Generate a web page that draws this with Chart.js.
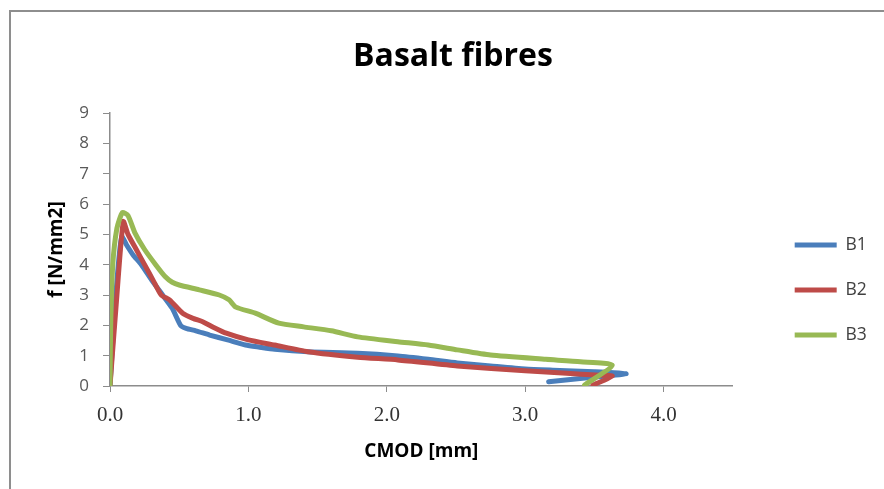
<!DOCTYPE html>
<html>
<head>
<meta charset="utf-8">
<script src="https://cdn.jsdelivr.net/npm/chart.js@4/dist/chart.umd.min.js"></script>
<style>
  html, body { margin: 0; padding: 0; overflow: hidden; background: #fff; width: 884px; height: 489px; }
  #frame { position: absolute; left: 9px; top: 10px; width: 900px; height: 700px; border: 2px solid #8e8e8e; box-sizing: border-box; }
  #c { position: absolute; left: 0; top: 0; }
</style>
</head>
<body>
<div id="frame"></div>
<canvas id="c" width="884" height="580"></canvas>
<script>
// Flexural tests on basalt-fibre specimens: stress f [N/mm2] against CMOD [mm]
const chartTitle = 'Basalt fibres';
const seriesNames = ['B1', 'B2', 'B3'];
const seriesColors = ['#4A7EBB', '#BE4B48', '#98B954'];

const cmodB1 = [0, 0.03, 0.06, 0.085, 0.12, 0.167, 0.227, 0.3, 0.38, 0.45, 0.51, 0.55, 0.62, 0.72, 0.85, 0.98, 1.08, 1.19, 1.43, 1.79, 2.08, 2.3, 2.51, 2.75, 3.0, 3.2, 3.5, 3.73, 3.45, 3.17];
const fB1    = [0, 2.2, 4.0, 4.92, 4.65, 4.32, 4.0, 3.5, 3.0, 2.56, 2.0, 1.9, 1.82, 1.68, 1.52, 1.35, 1.28, 1.21, 1.13, 1.08, 0.99, 0.88, 0.76, 0.66, 0.56, 0.52, 0.47, 0.40, 0.27, 0.14];

const cmodB2 = [0, 0.05, 0.096, 0.13, 0.19, 0.25, 0.31, 0.37, 0.43, 0.525, 0.6, 0.67, 0.75, 0.84, 1.0, 1.19, 1.43, 1.79, 2.08, 2.51, 3.0, 3.3, 3.51, 3.63, 3.49];
const fB2    = [0, 3.0, 5.42, 5.0, 4.5, 4.0, 3.5, 3.0, 2.84, 2.4, 2.23, 2.12, 1.93, 1.74, 1.52, 1.35, 1.13, 0.95, 0.86, 0.66, 0.5, 0.42, 0.36, 0.33, 0.03];

const cmodB3 = [0, 0.005, 0.02, 0.05, 0.09, 0.13, 0.18, 0.25, 0.33, 0.4, 0.45, 0.5, 0.645, 0.79, 0.86, 0.91, 1.05, 1.22, 1.4, 1.6, 1.79, 2.08, 2.3, 2.51, 2.75, 3.15, 3.4, 3.63, 3.43];
const fB3    = [0, 2.0, 4.0, 5.2, 5.72, 5.62, 5.05, 4.5, 4.0, 3.6, 3.42, 3.33, 3.17, 3.0, 2.84, 2.6, 2.4, 2.07, 1.95, 1.82, 1.62, 1.46, 1.35, 1.19, 1.02, 0.88, 0.8, 0.69, 0.03];

const xTickValues = [0, 1, 2, 3, 4];
const xRange = [0, 4.5];
const yRange = [0, 9];

const xs = [cmodB1, cmodB2, cmodB3];
const ys = [fB1, fB2, fB3];

const datasets = seriesNames.map((name, i) => ({
  label: name,
  data: xs[i].map((x, k) => ({ x, y: ys[i][k] })),
  borderColor: seriesColors[i],
  backgroundColor: seriesColors[i],
  borderWidth: 5,
  borderCapStyle: 'round',
  borderJoinStyle: 'round',
  pointRadius: 0,
  pointHoverRadius: 0,
  pointStyle: 'line',
  showLine: true,
  tension: 0.2,
  order: seriesNames.length - 1 - i
}));

const axisGrey = '#8c8c8c';

new Chart(document.getElementById('c'), {
  type: 'scatter',
  data: { datasets },
  options: {
    responsive: false,
    animation: false,
    devicePixelRatio: 1,
    layout: { padding: { left: 29.25, right: 7.25, top: 0, bottom: 0 } },
    plugins: {
      tooltip: { enabled: false },
      title: {
        display: true,
        text: chartTitle,
        color: '#000',
        font: { family: 'Open Sans', size: 32, weight: 'bold', lineHeight: 1.2 },
        padding: { top: 37.8, bottom: 36.8 }
      },
      legend: {
        position: 'right',
        align: 'center',
        labels: {
          usePointStyle: true,
          pointStyleWidth: 42,
          padding: 27.5,
          color: '#404040',
          font: { family: 'Open Sans', size: 17.5 },
          sort: (a, b) => a.datasetIndex - b.datasetIndex
        }
      }
    },
    scales: {
      x: {
        type: 'linear',
        position: 'bottom',
        min: xRange[0],
        max: xRange[1],
        afterBuildTicks: s => { s.ticks = xTickValues.map(v => ({ value: v })); },
        afterFit: s => { s.height = 194; },
        ticks: {
          includeBounds: false,
          padding: 11,
          color: '#333',
          font: { family: 'Liberation Serif', size: 21 },
          maxRotation: 0,
          callback: v => Number(v).toFixed(1)
        },
        grid: { drawOnChartArea: false, drawTicks: true, tickLength: 6, color: axisGrey, lineWidth: 1 },
        border: { display: true, color: axisGrey, width: 1.5 },
        title: {
          display: true,
          text: 'CMOD [mm]',
          color: '#000',
          font: { family: 'Open Sans', size: 19, weight: 'bold', lineHeight: 1.2 },
          padding: { top: 0, bottom: 117 }
        }
      },
      y: {
        type: 'linear',
        position: 'left',
        min: yRange[0],
        max: yRange[1],
        afterFit: s => { s.width = 80.75; },
        ticks: {
          stepSize: 1,
          padding: 14,
          color: '#595959',
          font: { family: 'Open Sans', size: 17 }
        },
        grid: { drawOnChartArea: false, drawTicks: true, tickLength: 7, color: axisGrey, lineWidth: 1 },
        border: { display: true, color: axisGrey, width: 1.5 },
        title: {
          display: true,
          text: 'f [N/mm2]',
          color: '#000',
          font: { family: 'Open Sans', size: 19, weight: 'bold', lineHeight: 1.2 },
          padding: { top: 16.3, bottom: 0 }
        }
      },
      // empty band between the plot area and the legend
      gap: {
        type: 'linear',
        axis: 'y',
        position: 'right',
        display: true,
        afterFit: s => { s.width = 34.5; },
        ticks: { display: false },
        grid: { display: false, drawTicks: false },
        border: { display: false }
      }
    }
  }
});
</script>
</body>
</html>
